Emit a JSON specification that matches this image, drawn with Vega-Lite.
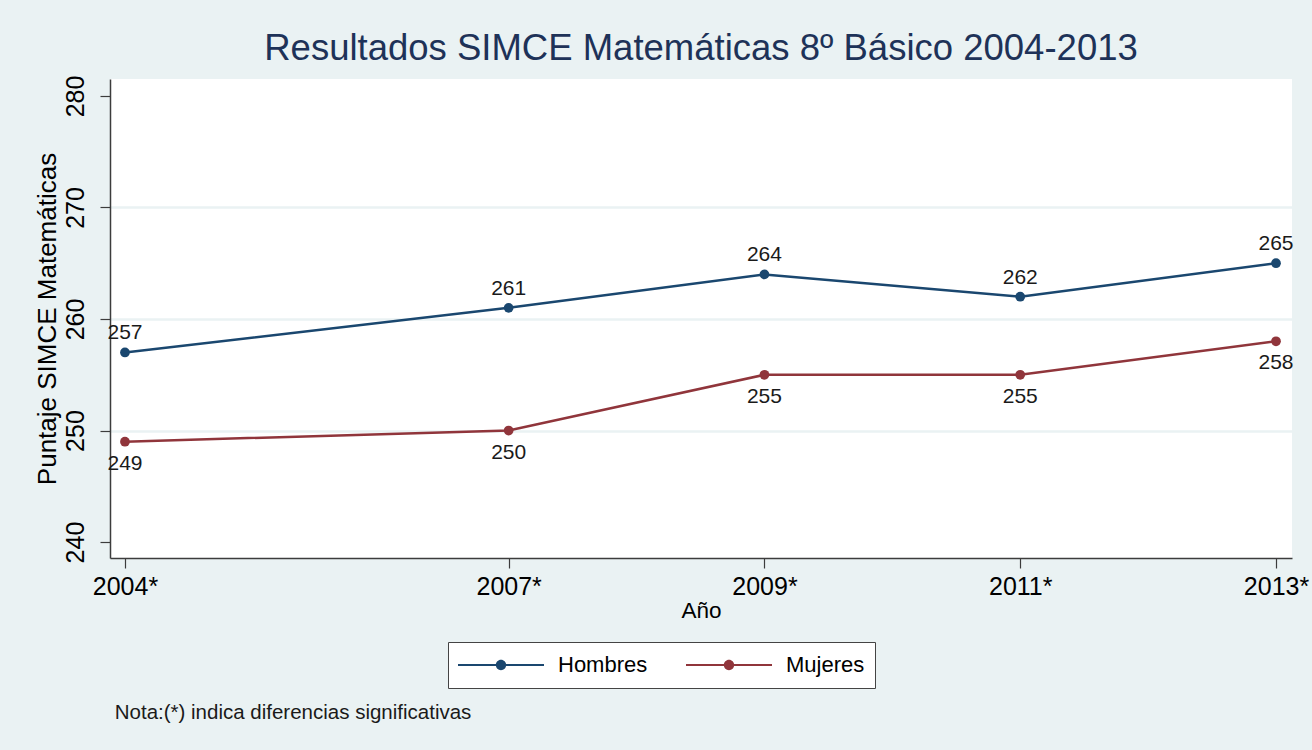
{
  "$schema": "https://vega.github.io/schema/vega-lite/v6.json",
  "width": 1182,
  "height": 479,
  "autosize": {"type": "none"},
  "padding": {"left": 110, "top": 79, "right": 20, "bottom": 192},
  "background": "#EAF2F3",
  "title": {
    "text": "Resultados SIMCE Matemáticas 8º Básico 2004-2013",
    "font": "Liberation Sans",
    "fontSize": 36.5,
    "fontWeight": "normal",
    "color": "#1e3258",
    "anchor": "middle",
    "offset": 8
  },
  "config": {
    "view": {"fill": "white", "stroke": null},
    "axis": {
      "domainColor": "#3c3c3c",
      "domainWidth": 1.5,
      "tickColor": "#3c3c3c",
      "tickWidth": 1.2,
      "labelFont": "Liberation Sans",
      "titleFont": "Liberation Sans",
      "labelColor": "#000000",
      "titleColor": "#000000",
      "titleFontWeight": "normal"
    }
  },
  "data": {
    "values": [
      {"year": 2004, "sexo": "Hombres", "puntaje": 257},
      {"year": 2007, "sexo": "Hombres", "puntaje": 261},
      {"year": 2009, "sexo": "Hombres", "puntaje": 264},
      {"year": 2011, "sexo": "Hombres", "puntaje": 262},
      {"year": 2013, "sexo": "Hombres", "puntaje": 265},
      {"year": 2004, "sexo": "Mujeres", "puntaje": 249},
      {"year": 2007, "sexo": "Mujeres", "puntaje": 250},
      {"year": 2009, "sexo": "Mujeres", "puntaje": 255},
      {"year": 2011, "sexo": "Mujeres", "puntaje": 255},
      {"year": 2013, "sexo": "Mujeres", "puntaje": 258}
    ]
  },
  "encoding": {
    "x": {
      "field": "year",
      "type": "quantitative",
      "scale": {"domain": [2003.883, 2013.125], "nice": false, "zero": false},
      "axis": {
        "values": [2004, 2007, 2009, 2011, 2013],
        "format": "d",
        "labelExpr": "datum.label + '*'",
        "labelFontSize": 25,
        "labelPadding": 6,
        "tickSize": 10,
        "grid": false,
        "title": "Año",
        "titleFontSize": 22.5,
        "titlePadding": 0
      }
    },
    "y": {
      "field": "puntaje",
      "type": "quantitative",
      "scale": {"domain": [238.57, 281.52], "nice": false, "zero": false},
      "axis": {
        "values": [240, 250, 260, 270, 280],
        "labelAngle": -90,
        "labelAlign": "center",
        "labelBaseline": "bottom",
        "labelFontSize": 25,
        "labelPadding": 12,
        "tickSize": 10,
        "grid": true,
        "gridWidth": 2.5,
        "gridColor": {"condition": {"test": "datum.value == 240 || datum.value == 280", "value": "transparent"}, "value": "#EAF2F3"},
        "title": "Puntaje SIMCE Matemáticas",
        "titleFontSize": 26,
        "titlePadding": 3
      }
    },
    "color": {
      "field": "sexo",
      "type": "nominal",
      "scale": {"domain": ["Hombres", "Mujeres"], "range": ["#1a476f", "#90353b"]},
      "legend": {
        "title": null,
        "orient": "none",
        "legendX": 338,
        "legendY": 563,
        "direction": "horizontal",
        "fillColor": "white",
        "strokeColor": "#444444",
        "padding": 10,
        "labelFont": "Liberation Sans",
        "labelFontSize": 22,
        "labelColor": "#000000",
        "labelOffset": 14,
        "columnPadding": 38,
        "symbolType": "M-1,-0.025H1V0.025H-1Z M0.12,0A0.12,0.12,0,1,1,-0.12,0A0.12,0.12,0,1,1,0.12,0Z",
        "symbolSize": 7396,
        "symbolStrokeWidth": 0,
        "symbolOpacity": 1,
        "clipHeight": 26,
        "encode": {
          "symbols": {
            "update": {
              "fill": {"scale": "color", "field": "value"},
              "stroke": {"value": "transparent"},
              "opacity": {"value": 1}
            }
          }
        }
      }
    }
  },
  "layer": [
    {
      "mark": {"type": "line", "strokeWidth": 2.5}
    },
    {
      "mark": {"type": "point", "filled": true, "opacity": 1, "size": 95}
    },
    {
      "transform": [{"filter": "datum.sexo == 'Hombres'"}],
      "mark": {"type": "text", "dy": -19, "fontSize": 21, "font": "Liberation Sans"},
      "encoding": {"text": {"field": "puntaje", "type": "quantitative"}, "color": {"value": "#1a1a1a"}}
    },
    {
      "transform": [{"filter": "datum.sexo == 'Mujeres'"}],
      "mark": {"type": "text", "dy": 22, "fontSize": 21, "font": "Liberation Sans"},
      "encoding": {"text": {"field": "puntaje", "type": "quantitative"}, "color": {"value": "#1a1a1a"}}
    },
    {
      "transform": [{"filter": "datum.year == 2004 && datum.sexo == 'Hombres'"}],
      "mark": {"type": "text", "align": "left", "baseline": "middle", "fontSize": 20.5, "font": "Liberation Sans", "text": "Nota:(*) indica diferencias significativas"},
      "encoding": {
        "x": {"datum": 2003.92, "type": "quantitative"},
        "y": {"datum": 224.66, "type": "quantitative"},
        "color": {"value": "#1a1a1a"}
      }
    }
  ]
}
